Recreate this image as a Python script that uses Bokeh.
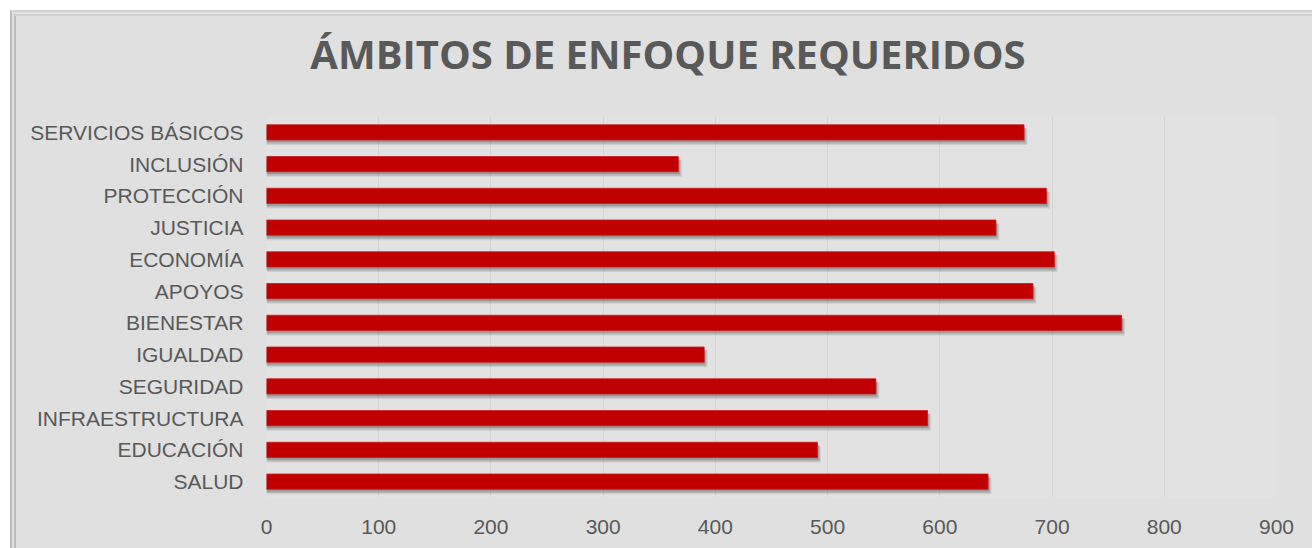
from bokeh.plotting import figure
from bokeh.layouts import column
from bokeh.models import ColumnDataSource, SingleIntervalTicker
from bokeh.core.properties import value
from bokeh.transform import dodge
from bokeh.embed import file_html
from bokeh.resources import INLINE

# ---- data (top to bottom as shown) ----
categories = ["SERVICIOS BÁSICOS", "INCLUSIÓN", "PROTECCIÓN", "JUSTICIA", "ECONOMÍA",
              "APOYOS", "BIENESTAR", "IGUALDAD", "SEGURIDAD", "INFRAESTRUCTURA",
              "EDUCACIÓN", "SALUD"]
values = [675, 367, 695, 650, 702, 683, 762, 390, 543, 589, 491, 643]
title_text = "ÁMBITOS DE ENFOQUE REQUERIDOS"
x_start, x_end, x_step = 0, 900, 100

factors = list(reversed(categories))
src = ColumnDataSource(dict(cat=categories, val=values))

BG = "#e0e0e0"
TXT = "#595959"
W = 1296

# ---- title strip ----
t = figure(width=W, height=100, x_range=(0, 1), y_range=(0, 100),
           x_axis_location=None, y_axis_location=None,
           output_backend="svg", toolbar_location=None)
t.min_border = 0
t.background_fill_color = BG
t.border_fill_color = BG
t.outline_line_color = None
t.xgrid.grid_line_color = None
t.ygrid.grid_line_color = None
t.text(x=[0.3975], y=[63], text=[title_text], text_align="center",
       text_baseline="alphabetic", text_font=value("Open Sans"),
       text_font_style="bold", text_font_size=value("40px"), text_color=TXT)

# ---- bar chart ----
p = figure(width=W, height=432, y_range=factors, x_range=(x_start, x_end),
           output_backend="svg", toolbar_location=None)
p.min_border_left = 250
p.min_border_right = 36
p.min_border_top = 0
p.min_border_bottom = 51
p.background_fill_color = "#e2e2e2"
p.border_fill_color = BG
p.outline_line_color = None

# shadow layers
for dy, dx, h, a in [(-0.14, 3, 0.52, 0.12), (-0.11, 2, 0.49, 0.17), (-0.08, 1, 0.46, 0.22)]:
    p.hbar(y=dodge("cat", dy, range=p.y_range), left=0, right=dodge("val", dx),
           height=h, source=src, fill_color="#3a3a3a", fill_alpha=a, line_color=None)

p.hbar(y="cat", left=0, right="val", height=0.48, source=src,
       fill_color="#c00000", line_color="#c91a1a", line_width=0.8)

p.xaxis.ticker = SingleIntervalTicker(interval=x_step)
for ax in (p.xaxis[0], p.yaxis[0]):
    ax.axis_line_color = None
    ax.major_tick_line_color = None
    ax.minor_tick_line_color = None
    ax.major_label_text_font = "Liberation Sans"
    ax.major_label_text_font_size = "21px"
    ax.major_label_text_color = TXT
p.yaxis.major_label_standoff = 17
p.xaxis.major_label_standoff = 16

p.xgrid.grid_line_color = "#d5d5d5"
p.xgrid.grid_line_width = 1
p.ygrid.grid_line_color = None

layout = column(t, p, spacing=0,
                styles={"margin-left": "10px", "margin-top": "10px",
                        "border-left": "6px double #bdbdbd",
                        "border-top": "6px double #d2d2d2",
                        "background-color": BG})

open("out.html", "w").write(file_html(layout, INLINE))
